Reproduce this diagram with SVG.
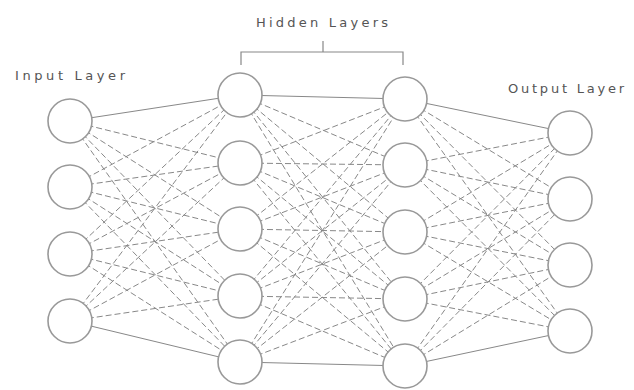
<svg xmlns="http://www.w3.org/2000/svg" width="634" height="390" viewBox="0 0 634 390">
<style>
.n{fill:#fff;stroke:#999;stroke-width:1.6}
.c line{stroke:#888;stroke-width:1;stroke-dasharray:6 3}
.c line.s{stroke-dasharray:none}
.t{font-family:"DejaVu Sans",Verdana,sans-serif;font-size:13px;fill:#555}
.b{stroke:#888;stroke-width:1.2;fill:none}
</style>
<rect width="634" height="390" fill="#fff"/>
<g id="connectors" class="c">
<line class="s" x1="70" y1="121" x2="240" y2="95"/><line x1="70" y1="121" x2="240" y2="163"/><line x1="70" y1="121" x2="240" y2="229"/><line x1="70" y1="121" x2="240" y2="296"/><line x1="70" y1="121" x2="240" y2="362"/>
<line x1="70" y1="187" x2="240" y2="95"/><line x1="70" y1="187" x2="240" y2="163"/><line x1="70" y1="187" x2="240" y2="229"/><line x1="70" y1="187" x2="240" y2="296"/><line x1="70" y1="187" x2="240" y2="362"/>
<line x1="70" y1="254" x2="240" y2="95"/><line x1="70" y1="254" x2="240" y2="163"/><line x1="70" y1="254" x2="240" y2="229"/><line x1="70" y1="254" x2="240" y2="296"/><line x1="70" y1="254" x2="240" y2="362"/>
<line x1="70" y1="321" x2="240" y2="95"/><line x1="70" y1="321" x2="240" y2="163"/><line x1="70" y1="321" x2="240" y2="229"/><line x1="70" y1="321" x2="240" y2="296"/><line class="s" x1="70" y1="321" x2="240" y2="362"/>
<line class="s" x1="240" y1="95" x2="405" y2="99"/><line x1="240" y1="95" x2="405" y2="165"/><line x1="240" y1="95" x2="405" y2="232"/><line x1="240" y1="95" x2="405" y2="299"/><line x1="240" y1="95" x2="405" y2="366"/>
<line x1="240" y1="163" x2="405" y2="99"/><line x1="240" y1="163" x2="405" y2="165"/><line x1="240" y1="163" x2="405" y2="232"/><line x1="240" y1="163" x2="405" y2="299"/><line x1="240" y1="163" x2="405" y2="366"/>
<line x1="240" y1="229" x2="405" y2="99"/><line x1="240" y1="229" x2="405" y2="165"/><line x1="240" y1="229" x2="405" y2="232"/><line x1="240" y1="229" x2="405" y2="299"/><line x1="240" y1="229" x2="405" y2="366"/>
<line x1="240" y1="296" x2="405" y2="99"/><line x1="240" y1="296" x2="405" y2="165"/><line x1="240" y1="296" x2="405" y2="232"/><line x1="240" y1="296" x2="405" y2="299"/><line x1="240" y1="296" x2="405" y2="366"/>
<line x1="240" y1="362" x2="405" y2="99"/><line x1="240" y1="362" x2="405" y2="165"/><line x1="240" y1="362" x2="405" y2="232"/><line x1="240" y1="362" x2="405" y2="299"/><line class="s" x1="240" y1="362" x2="405" y2="366"/>
<line class="s" x1="405" y1="99" x2="570" y2="133"/><line x1="405" y1="99" x2="570" y2="199"/><line x1="405" y1="99" x2="570" y2="265"/><line x1="405" y1="99" x2="570" y2="331"/>
<line x1="405" y1="165" x2="570" y2="133"/><line x1="405" y1="165" x2="570" y2="199"/><line x1="405" y1="165" x2="570" y2="265"/><line x1="405" y1="165" x2="570" y2="331"/>
<line x1="405" y1="232" x2="570" y2="133"/><line x1="405" y1="232" x2="570" y2="199"/><line x1="405" y1="232" x2="570" y2="265"/><line x1="405" y1="232" x2="570" y2="331"/>
<line x1="405" y1="299" x2="570" y2="133"/><line x1="405" y1="299" x2="570" y2="199"/><line x1="405" y1="299" x2="570" y2="265"/><line x1="405" y1="299" x2="570" y2="331"/>
<line x1="405" y1="366" x2="570" y2="133"/><line x1="405" y1="366" x2="570" y2="199"/><line x1="405" y1="366" x2="570" y2="265"/><line class="s" x1="405" y1="366" x2="570" y2="331"/>
</g>
<g id="input-layer">
<circle id="in1" class="n" cx="70" cy="121" r="22"/>
<circle id="in2" class="n" cx="70" cy="187" r="22"/>
<circle id="in3" class="n" cx="70" cy="254" r="22"/>
<circle id="in4" class="n" cx="70" cy="321" r="22"/>
</g>
<g id="hidden-layer-1">
<circle id="h1a" class="n" cx="240" cy="95" r="22"/>
<circle id="h1b" class="n" cx="240" cy="163" r="22"/>
<circle id="h1c" class="n" cx="240" cy="229" r="22"/>
<circle id="h1d" class="n" cx="240" cy="296" r="22"/>
<circle id="h1e" class="n" cx="240" cy="362" r="22"/>
</g>
<g id="hidden-layer-2">
<circle id="h2a" class="n" cx="405" cy="99" r="22"/>
<circle id="h2b" class="n" cx="405" cy="165" r="22"/>
<circle id="h2c" class="n" cx="405" cy="232" r="22"/>
<circle id="h2d" class="n" cx="405" cy="299" r="22"/>
<circle id="h2e" class="n" cx="405" cy="366" r="22"/>
</g>
<g id="output-layer">
<circle id="o1" class="n" cx="570" cy="133" r="22"/>
<circle id="o2" class="n" cx="570" cy="199" r="22"/>
<circle id="o3" class="n" cx="570" cy="265" r="22"/>
<circle id="o4" class="n" cx="570" cy="331" r="22"/>
</g>
<g id="labels">
<text class="t" x="15" y="80" textLength="110" lengthAdjust="spacing">Input Layer</text>
<text class="t" x="256" y="27" textLength="132" lengthAdjust="spacing">Hidden Layers</text>
<text class="t" x="508" y="93" textLength="116" lengthAdjust="spacing">Output Layer</text>
</g>
<g id="bracket">
<path class="b" d="M241,65 V52 H403 V65 M323,52 V41"/>
</g>
</svg>
